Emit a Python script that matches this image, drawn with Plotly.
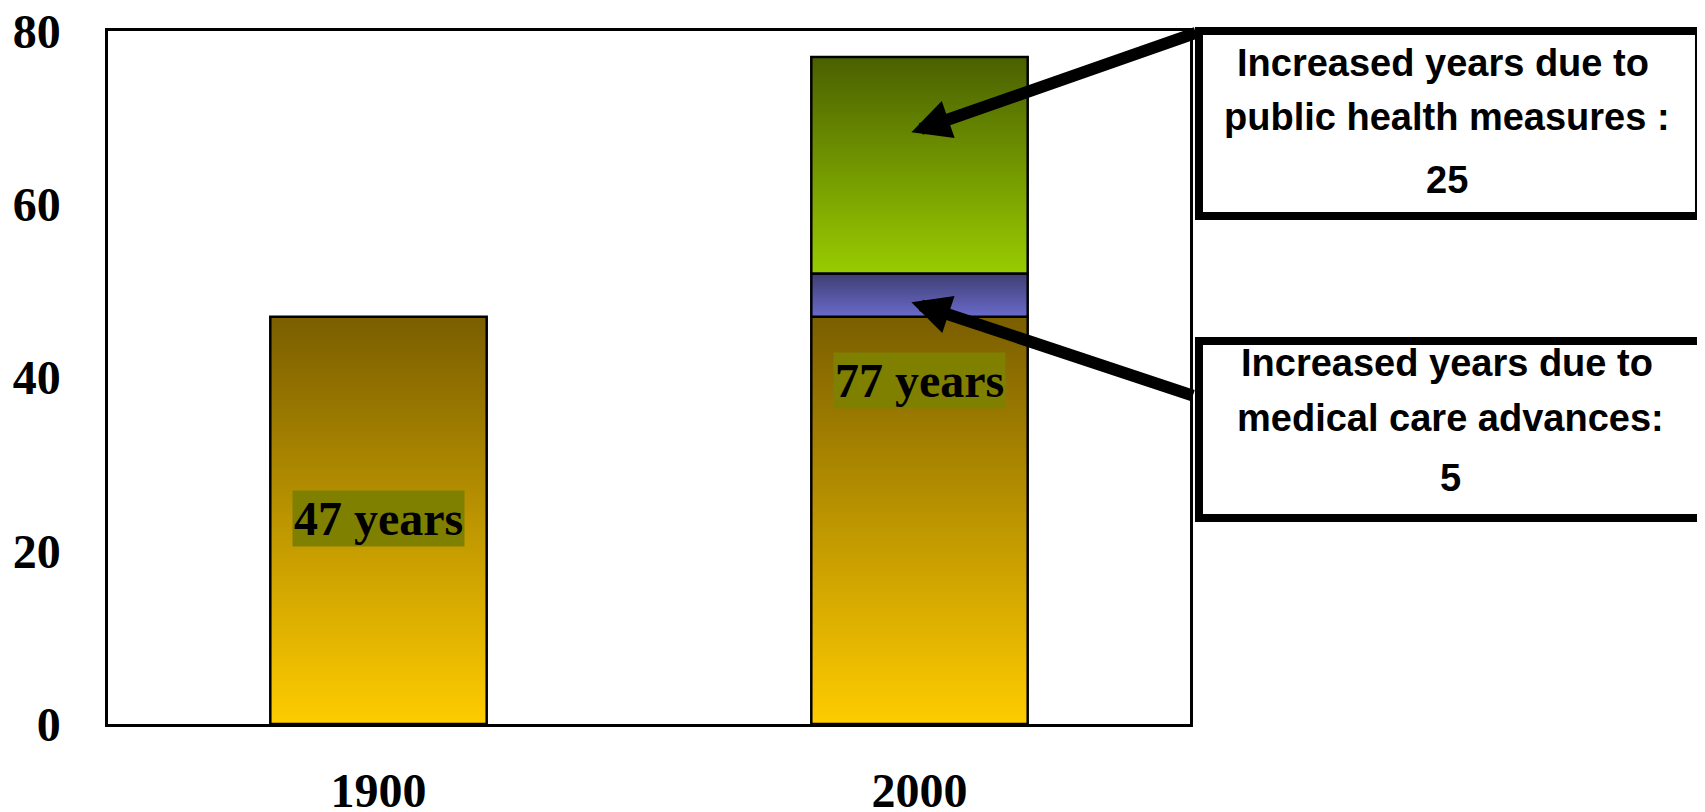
import plotly.graph_objects as go

# ---------------- data ----------------
categories = ["1900", "2000"]
base_years = [47, 47]            # life expectancy in 1900 (base segment)
medical_years = [0, 5]           # increase due to medical care advances
public_health_years = [0, 25]    # increase due to public health measures
y_ticks = [0, 20, 40, 60, 80]
bar_labels = ["47 years", "77 years"]
bar_label_y = [23.7, 39.6]
callout_public = ["Increased years due to", "public health measures :", "25"]
callout_medical = ["Increased years due to", "medical care advances:", "5"]

# ---------------- styles ----------------
BAR_WIDTH = 0.4
seg_styles = [
    ("base", base_years, ["#FFCC00", "#7A5E00"]),
    ("medical", medical_years, ["#6A6ACC", "#3E3E72"]),
    ("public", public_health_years, ["#99CC00", "#4A6000"]),
]
SERIF = "Liberation Serif, Times New Roman, serif"
SANS = "Liberation Sans, Arial, sans-serif"

fig = go.Figure()

for i, cat in enumerate(categories):
    bottom = 0
    for name, values, (c_low, c_high) in seg_styles:
        v = values[i]
        if v <= 0:
            continue
        top = bottom + v
        x0, x1 = i - BAR_WIDTH / 2, i + BAR_WIDTH / 2
        fig.add_trace(go.Scatter(
            x=[x0, x1, x1, x0, x0],
            y=[bottom, bottom, top, top, bottom],
            mode="lines",
            fill="toself",
            fillgradient=dict(type="vertical", colorscale=[[0, c_low], [1, c_high]]),
            line=dict(color="black", width=2.5),
            hoverinfo="skip",
            name=f"{cat} {name}",
        ))
        bottom = top

# bar labels
for i, txt in enumerate(bar_labels):
    fig.add_annotation(
        x=i, y=bar_label_y[i], xref="x", yref="y", text=txt, showarrow=False,
        xanchor="center", yanchor="middle",
        font=dict(family=SERIF, size=48, color="black", weight="bold"),
        bgcolor="#808000", borderpad=1,
    )

# call-out boxes (paper coords)
fig.add_shape(type="rect", xref="paper", yref="paper",
              x0=1.0083, x1=1.4704, y0=0.733, y1=1.0,
              line=dict(color="black", width=8), fillcolor="white", layer="above")
fig.add_shape(type="rect", xref="paper", yref="paper",
              x0=1.0083, x1=1.49, y0=0.2973, y1=0.5527,
              line=dict(color="black", width=8), fillcolor="white", layer="above")

for txt, py, px in zip(callout_public, [0.9538, 0.8759, 0.785], [1.2335, 1.2375, 1.2375]):
    fig.add_annotation(x=px, y=py, xref="paper", yref="paper", text=txt, showarrow=False,
                       xanchor="center", yanchor="middle",
                       font=dict(family=SANS, size=38, color="black", weight="bold"))
for txt, py, px in zip(callout_medical, [0.5209, 0.4416, 0.355], [1.2375, 1.2403, 1.2403]):
    fig.add_annotation(x=px, y=py, xref="paper", yref="paper", text=txt, showarrow=False,
                       xanchor="center", yanchor="middle",
                       font=dict(family=SANS, size=38, color="black", weight="bold"))

# arrows
fig.add_annotation(x=0.985, y=68.3, xref="x", yref="y", text="", showarrow=True,
                   ax=286, ay=-100, arrowhead=2, arrowsize=0.65, arrowwidth=12,
                   arrowcolor="black", standoff=0)
fig.add_annotation(x=0.985, y=48.7, xref="x", yref="y", text="", showarrow=True,
                   ax=283, ay=94, arrowhead=2, arrowsize=0.65, arrowwidth=12,
                   arrowcolor="black", standoff=0)

fig.update_layout(
    width=1705, height=812,
    margin=dict(l=100, r=523, t=23, b=96),
    plot_bgcolor="white", paper_bgcolor="white",
    showlegend=False,
    xaxis=dict(
        range=[-0.5, 1.5], tickvals=list(range(len(categories))), ticktext=categories,
        showline=True, linecolor="black", linewidth=2.5, mirror=True,
        showgrid=False, zeroline=False, ticks="", ticklabelstandoff=23,
        ticklabeloverflow="allow",
        tickfont=dict(family=SERIF, size=48, color="black", weight="bold"),
        fixedrange=True, automargin=False,
    ),
    yaxis=dict(
        range=[0, 80], tickvals=y_ticks, ticktext=[str(t) for t in y_ticks],
        showline=True, linecolor="black", linewidth=2.5, mirror=True,
        showgrid=False, zeroline=False, ticks="", ticklabelstandoff=35,
        ticklabeloverflow="allow",
        tickfont=dict(family=SERIF, size=48, color="black", weight="bold"),
        fixedrange=True, automargin=False,
    ),
)

fig.write_html("out.html")
